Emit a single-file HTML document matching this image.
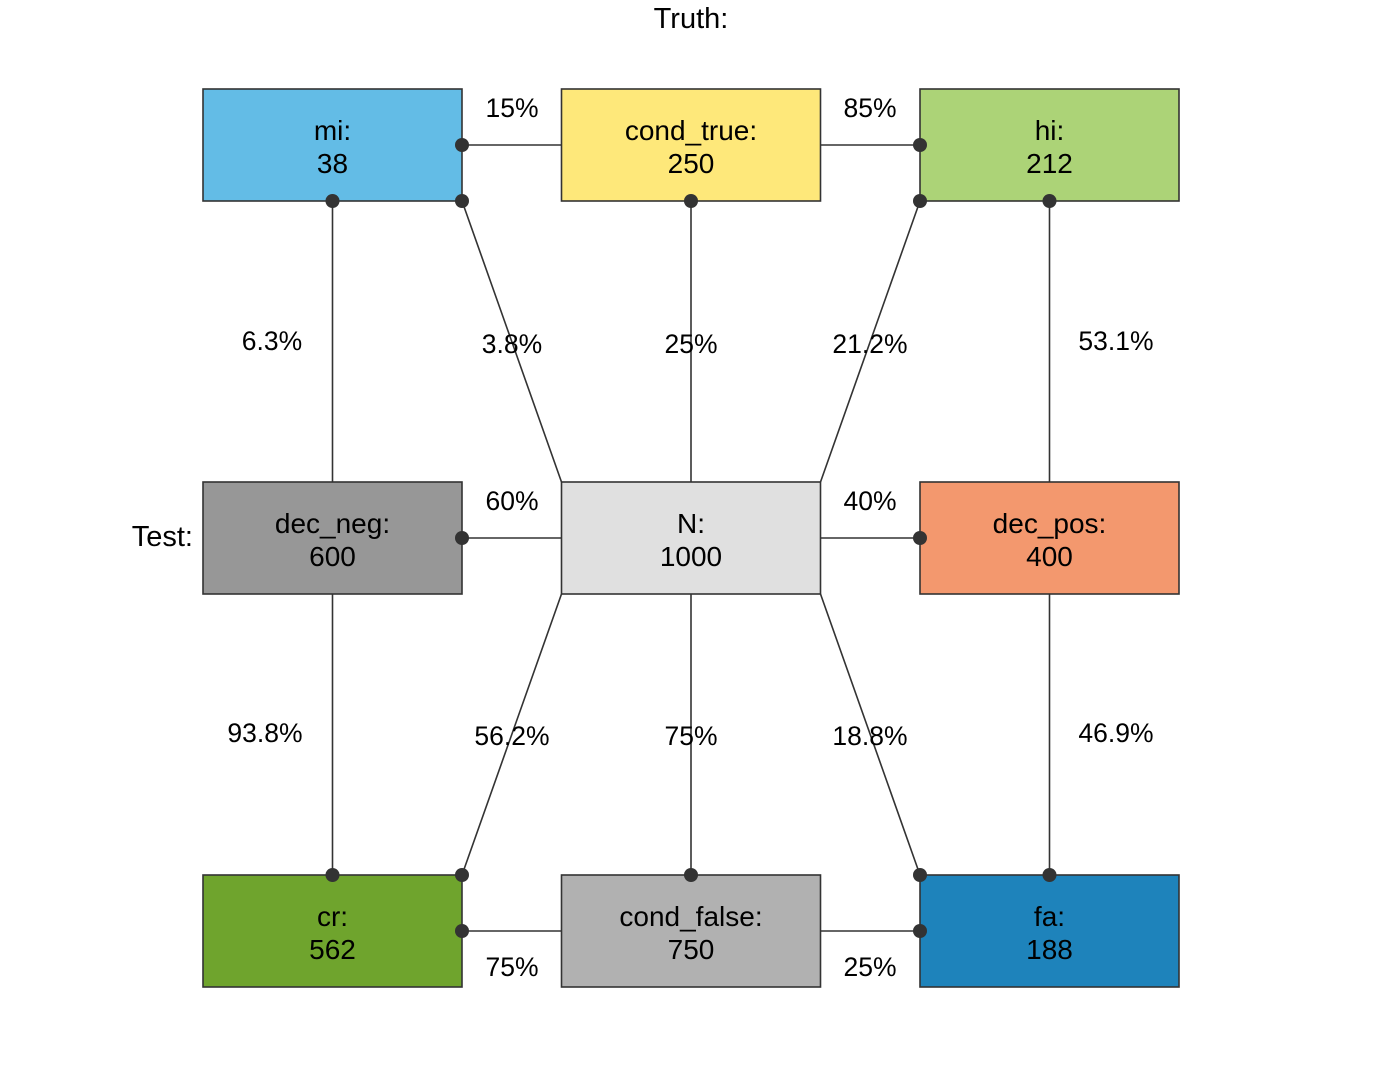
<!DOCTYPE html>
<html><head><meta charset="utf-8">
<style>
html,body{margin:0;padding:0;background:#fff;}
svg text{font-family:"Liberation Sans",Arial,sans-serif;fill:#000;}
</style></head>
<body>
<svg id="chart" width="1382" height="1076" viewBox="0 0 1382 1076" xmlns="http://www.w3.org/2000/svg">
<text x="691" y="28" font-size="29" text-anchor="middle">Truth:</text>
<text x="193" y="546" font-size="29" text-anchor="end">Test:</text>
</svg>
<script>
// node data: name, value, column index, row index, fill
const nodeNames = ["mi","cond_true","hi","dec_neg","N","dec_pos","cr","cond_false","fa"];
const nodeValues = [38,250,212,600,1000,400,562,750,188];
const nodeCols = [0,1,2,0,1,2,0,1,2];
const nodeRows = [0,0,0,1,1,1,2,2,2];
const nodeFills = ["#63bce6","#fee87a","#acd377","#979797","#e0e0e0","#f3986e","#6fa42d","#b1b1b1","#1e83bb"];
const edgeLabels = ["15%","85%","6.3%","25%","21.2%","53.1%","60%","40%","93.8%","75%","46.9%","56.2%","75%","25%"];
const diagLabels = ["3.8%","18.8%"];

const colX = c => 203 + c*358.5;
const rowY = r => 89 + r*393;
const BW = 259, BH = 112;
const svg = document.getElementById('chart');
const NS = "http://www.w3.org/2000/svg";
function mk(tag, attrs){const e=document.createElementNS(NS,tag);for(const k in attrs)e.setAttribute(k,attrs[k]);svg.appendChild(e);return e;}
function line(x1,y1,x2,y2,name){const l=mk('line',{x1,y1,x2,y2,stroke:'#333',"stroke-width":1.6});

}
function dot(x,y){const c=mk('circle',{cx:x,cy:y,r:7,fill:'#333'});

}
function label(x,y,t,name){const e=mk('text',{x,y:y+1,"font-size":26.5,"text-anchor":"middle"});e.textContent=t;

}

const L=i=>colX(nodeCols[i]), T=i=>rowY(nodeRows[i]), R=i=>L(i)+BW, B=i=>T(i)+BH, CX=i=>L(i)+BW/2, CY=i=>T(i)+BH/2;

line(R(0),CY(0),L(1),CY(1),'edge-mi-cond-true'); label(512,116,edgeLabels[0],'label-mi-share');
line(R(1),CY(1),L(2),CY(2),'edge-cond-true-hi'); label(870,116,edgeLabels[1],'label-hi-share');
line(CX(0),B(0),CX(3),T(3),'edge-mi-dec-neg'); label(272,349,edgeLabels[2],'label-mi-dec-neg');
line(CX(1),B(1),CX(4),T(4),'edge-cond-true-n'); label(691,352,edgeLabels[3],'label-cond-true-n');
line(L(2),B(2),R(4),T(4),'edge-hi-n'); label(870,352,edgeLabels[4],'label-hi-n');
line(CX(2),B(2),CX(5),T(5),'edge-hi-dec-pos'); label(1116,349,edgeLabels[5],'label-hi-dec-pos');
line(R(0),B(0),L(4),T(4),'edge-mi-n'); label(512,352,diagLabels[0],'label-mi-n');
line(R(3),CY(3),L(4),CY(4),'edge-dec-neg-n'); label(512,509,edgeLabels[6],'label-dec-neg-share');
line(R(4),CY(4),L(5),CY(5),'edge-n-dec-pos'); label(870,509,edgeLabels[7],'label-dec-pos-share');
line(CX(3),B(3),CX(6),T(6),'edge-dec-neg-cr'); label(265,741,edgeLabels[8],'label-dec-neg-cr');
line(CX(4),B(4),CX(7),T(7),'edge-n-cond-false'); label(691,744,edgeLabels[9],'label-n-cond-false');
line(CX(5),B(5),CX(8),T(8),'edge-dec-pos-fa'); label(1116,741,edgeLabels[10],'label-dec-pos-fa');
line(L(4),B(4),R(6),T(6),'edge-n-cr'); label(512,744,edgeLabels[11],'label-n-cr');
line(R(4),B(4),L(8),T(8),'edge-n-fa'); label(870,744,diagLabels[1],'label-n-fa');
line(R(6),CY(6),L(7),CY(7),'edge-cr-cond-false'); label(512,975,edgeLabels[12],'label-cr-share');
line(R(7),CY(7),L(8),CY(8),'edge-cond-false-fa'); label(870,975,edgeLabels[13],'label-fa-share');

nodeNames.forEach((n,i)=>{
  const g=document.createElementNS(NS,'g');svg.appendChild(g);
  
  
  const r=document.createElementNS(NS,'rect');
  r.setAttribute('x',L(i));r.setAttribute('y',T(i));r.setAttribute('width',BW);r.setAttribute('height',BH);
  r.setAttribute('fill',nodeFills[i]);r.setAttribute('stroke','#333');r.setAttribute('stroke-width',1.6);
  g.appendChild(r);
  const t1=document.createElementNS(NS,'text');
  t1.setAttribute('x',CX(i));t1.setAttribute('y',CY(i)-5);t1.setAttribute('font-size',28);t1.setAttribute('text-anchor','middle');
  t1.textContent=n+':';g.appendChild(t1);
  const t2=document.createElementNS(NS,'text');
  t2.setAttribute('x',CX(i));t2.setAttribute('y',CY(i)+28);t2.setAttribute('font-size',28);t2.setAttribute('text-anchor','middle');
  t2.textContent=nodeValues[i];g.appendChild(t2);
});
[[R(0),CY(0)],[L(2),CY(2)],[CX(0),B(0)],[CX(1),B(1)],[L(2),B(2)],[CX(2),B(2)],[R(0),B(0)],
 [R(3),CY(3)],[L(5),CY(5)],[CX(6),T(6)],[CX(7),T(7)],[CX(8),T(8)],[R(6),T(6)],[L(8),T(8)],[R(6),CY(6)],[L(8),CY(8)]]
 .forEach(p=>dot(p[0],p[1]));
</script>
</body></html>
